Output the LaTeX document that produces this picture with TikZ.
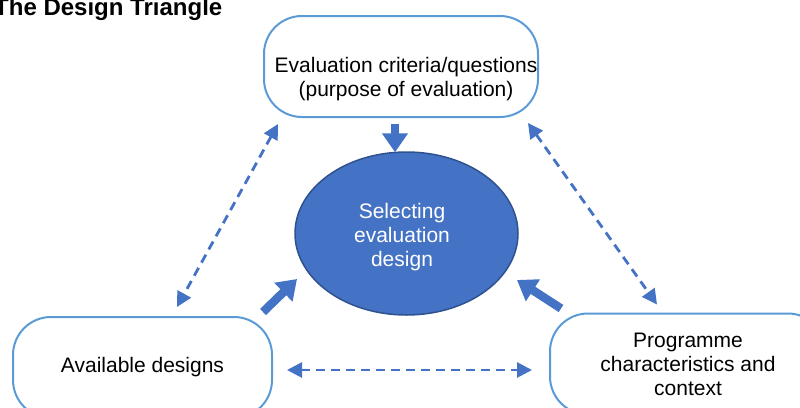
\documentclass[tikz,border=0pt]{standalone}
\usepackage{fontspec}
\setmainfont{Liberation Sans}
\usepackage{tikz}
\usetikzlibrary{positioning, shapes.geometric, arrows.meta}
\definecolor{boxblue}{HTML}{5B9BD5}
\definecolor{fillblue}{HTML}{4472C4}
\definecolor{edgeblue}{HTML}{2F528F}

\tikzset{
  box/.style={draw=boxblue, line width=2pt, rounded corners=38pt, minimum height=101pt, inner sep=0pt, align=center, font=\fontsize{21}{24}\selectfont},
  txt/.style={inner sep=0pt, align=center, font=\fontsize{21}{24}\selectfont},
  bigarrow/.style={draw=fillblue, line width=8.5pt, -{Triangle[width=25pt,length=19pt]}},
  dasharrow/.style={draw=fillblue, line width=2.8pt, dash pattern=on 9pt off 6pt, {Triangle[width=15pt,length=15pt]}-{Triangle[width=15pt,length=15pt]}}
}

\begin{document}
\begin{tikzpicture}[x=1pt, y=-1pt]
  \useasboundingbox (0,0) rectangle (800,407);

  \node[anchor=base west, inner sep=0pt, font=\fontsize{24}{28}\selectfont\bfseries]  (title)  at (-6,15)  {The Design Triangle};

  \node[box, minimum width=274pt]  (crit)  at (401,66.5)  {};
  \node[txt]  (crittxt)  at (406,79.5)  {Evaluation criteria/questions\\(purpose of evaluation)};
  \node[box, minimum width=259pt]  (avail)  at (142.5,367.5)  {Available designs};
  \node[box, minimum width=276pt]  (prog)  at (688,364)  {Programme\\characteristics and\\context};
  \node[ellipse, draw=edgeblue, fill=fillblue, line width=1.5pt, minimum width=223pt, minimum height=163pt, inner sep=0pt]  (sel)  at (406.5,233.5)  {};
  \node[txt, text=white]  (seltxt)  at (402,237.5)  {Selecting\\evaluation\\design};

  \draw[bigarrow] ([shift={(-6,6)}]crit.south) -- ([shift={(-11.5,1)}]sel.north);
  \draw[bigarrow] ([shift={(-10,-4)}]avail.north east) -- ([shift={(-109.5,45.5)}]sel.center);
  \draw[bigarrow] ([shift={(12,-4)}]prog.north west) -- ([shift={(110.5,46.5)}]sel.center);

  \draw[dasharrow] ([shift={(15,6)}]crit.south west) -- ([shift={(34.5,-9)}]avail.north);
  \draw[dasharrow] ([shift={(-11,5)}]crit.south east) -- ([shift={(108,-8)}]prog.north west);
  \draw[dasharrow] ([shift={(14,2.5)}]avail.east) -- ([shift={(-17,6)}]prog.west);
\end{tikzpicture}
\end{document}
